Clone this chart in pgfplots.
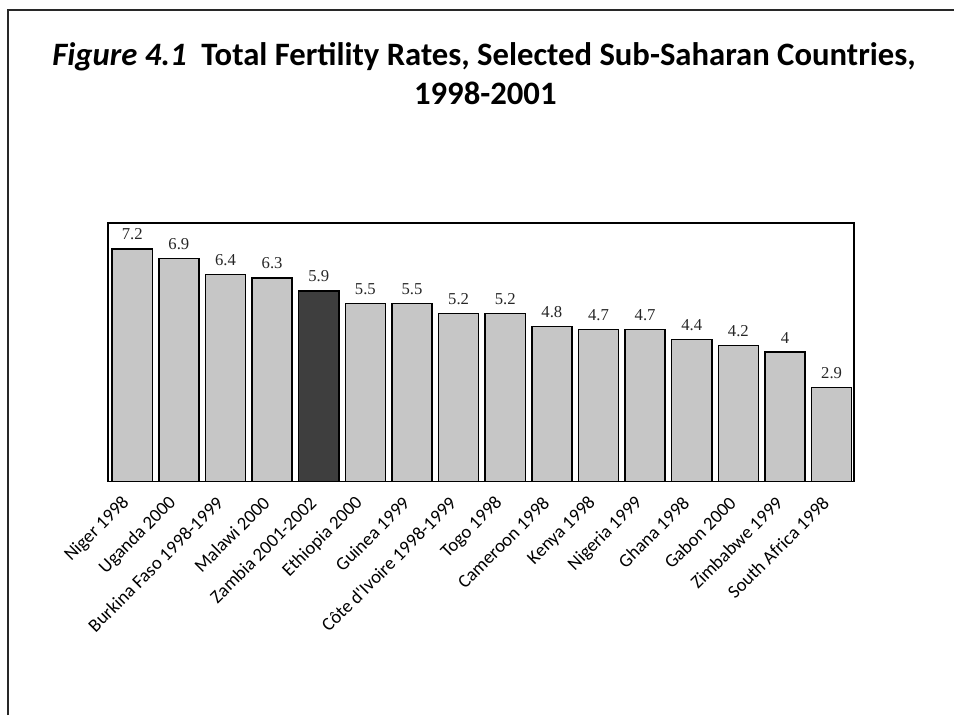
\documentclass[border=0pt]{standalone}
\usepackage{fontspec}
\setmainfont{Liberation Serif}
\newfontfamily\labelfont{Carlito}
\usepackage{pgfplots}
\pgfplotsset{compat=1.18}
\definecolor{barlight}{RGB}{198,198,198}
\definecolor{bardark}{RGB}{62,62,62}
\definecolor{framegray}{RGB}{40,40,40}

\begin{document}
\begin{tikzpicture}
\useasboundingbox (0,0) rectangle (715.5pt,-536.25pt);
% frame: only left and top edges are visible in the reference
\draw[line width=1.4pt, framegray] (6pt,-536.25pt) -- (6pt,-7.5pt) -- (715.5pt,-7.5pt);
\node[anchor=base, font=\labelfont\bfseries\fontsize{24.5}{24.5}\selectfont]
  at (363pt,-48.75pt) {\textit{Figure 4.1}\hspace{0.45em}Total Fertility Rates, Selected Sub-Saharan Countries,};
\node[anchor=base, font=\labelfont\bfseries\fontsize{24.5}{24.5}\selectfont]
  at (364pt,-78pt) {1998-2001};
\begin{axis}[
  at={(81pt,-361.1pt)}, anchor=south west,
  scale only axis, width=559.5pt, height=193.9pt,
  xmin=-0.52, xmax=15.48, ymin=0, ymax=8,
  ybar, bar width=0.86, bar shift=0pt,
  axis line style={line width=1pt},
  xtick={0,...,15}, ytick=\empty, major tick length=0pt,
  xticklabels={Niger 1998, Uganda 2000, Burkina Faso 1998-1999, Malawi 2000,
    Zambia 2001-2002, Ethiopia 2000, Guinea 1999, C\^ote d'Ivoire 1998-1999,
    Togo 1998, Cameroon 1998, Kenya 1998, Nigeria 1999, Ghana 1998,
    Gabon 2000, Zimbabwe 1999, South Africa 1998},
  xticklabel style={font=\labelfont\fontsize{14}{14}\selectfont,
    xshift=-3.5pt, yshift=-13pt, rotate=45, anchor=east, inner sep=1pt},
  nodes near coords,
  every node near coord/.append style={font=\fontsize{12.5}{12.5}\selectfont,
    /pgf/number format/assume math mode=true,
    anchor=base, inner sep=0pt, yshift=6.75pt, text=black!85},
]
\addplot[draw=black, line width=1.1pt, fill=barlight] coordinates {
  (0,7.2) (1,6.9) (2,6.4) (3,6.3) (5,5.5) (6,5.5) (7,5.2) (8,5.2)
  (9,4.8) (10,4.7) (11,4.7) (12,4.4) (13,4.2) (14,4) (15,2.9)
};
\addplot[draw=black, line width=1.1pt, fill=bardark] coordinates {
  (4,5.9)
};
\end{axis}
\end{tikzpicture}
\end{document}
